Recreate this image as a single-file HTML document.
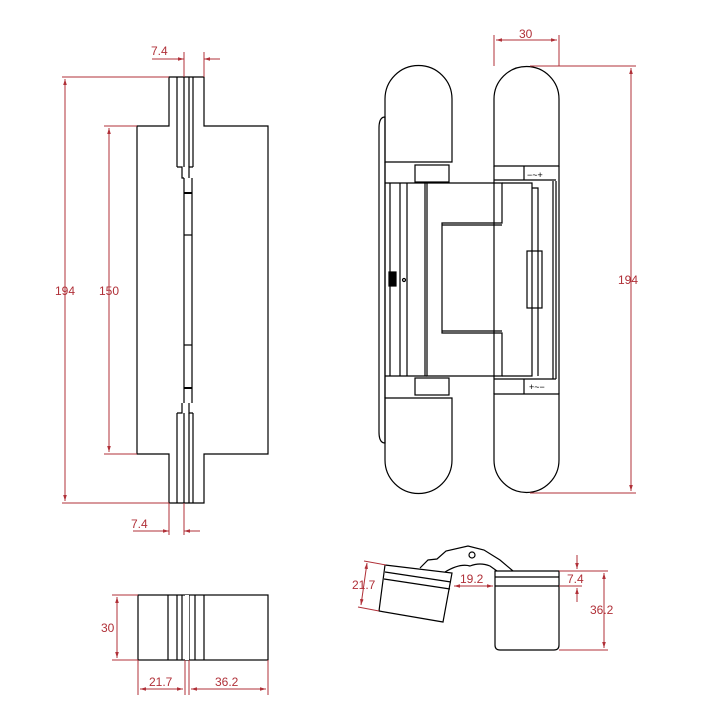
<!DOCTYPE html>
<html><head><meta charset="utf-8"><style>
html,body{margin:0;padding:0;background:#fff;width:715px;height:712px;overflow:hidden}
svg{display:block}
text{font-family:"Liberation Sans",sans-serif;font-size:12px;fill:#b03038}
.k{stroke:#000;stroke-width:1.2;fill:none}
.r{stroke:#b03038;stroke-width:1;fill:none}
</style></head><body>
<svg width="715" height="712" viewBox="0 0 715 712" xmlns="http://www.w3.org/2000/svg">
<defs>
<marker id="a" viewBox="0 0 10 10" refX="10" refY="5" markerWidth="6" markerHeight="6" orient="auto-start-reverse"><path d="M0,2 L10,5 L0,8z" fill="#b03038"/></marker>
</defs>

<!-- LEFT SIDE VIEW -->
<g class="k">
<path d="M169,77 H204 V126 H268 V454 H204 V503 H169 V454 H137 V126 H169 Z"/>
<line x1="177" y1="77" x2="177" y2="167"/>
<line x1="184" y1="77" x2="184" y2="167"/>
<line x1="189" y1="77" x2="189" y2="167"/>
<line x1="193" y1="77" x2="193" y2="167"/>
<path d="M177,167 H182 V178 H184 M193,167 H189 V178"/>
<line x1="177" y1="413" x2="177" y2="503"/>
<line x1="184" y1="413" x2="184" y2="503"/>
<line x1="189" y1="413" x2="189" y2="503"/>
<line x1="193" y1="413" x2="193" y2="503"/>
<path d="M177,413 H182 V403 M193,413 H189 V403"/>
<line x1="184" y1="178" x2="184" y2="403"/>
<line x1="192" y1="178" x2="192" y2="403"/>
<line x1="184" y1="193" x2="192" y2="193" stroke-width="2"/>
<line x1="184" y1="235" x2="192" y2="235"/>
<line x1="184" y1="345" x2="192" y2="345"/>
<line x1="184" y1="388" x2="192" y2="388" stroke-width="2"/>
</g>
<g class="r">
<line x1="62" y1="77" x2="169" y2="77"/><line x1="62" y1="503" x2="169" y2="503"/>
<line x1="65" y1="79" x2="65" y2="501" marker-start="url(#a)" marker-end="url(#a)"/>
<line x1="104" y1="126" x2="137" y2="126"/><line x1="104" y1="454" x2="137" y2="454"/>
<line x1="109" y1="128" x2="109" y2="452" marker-start="url(#a)" marker-end="url(#a)"/>
<line x1="184" y1="52" x2="184" y2="77"/><line x1="204" y1="52" x2="204" y2="77"/>
<line x1="152" y1="59" x2="184" y2="59" marker-end="url(#a)"/>
<line x1="220" y1="59" x2="204" y2="59" marker-end="url(#a)"/>
<line x1="169" y1="503" x2="169" y2="535"/><line x1="184" y1="503" x2="184" y2="535"/>
<line x1="133" y1="531" x2="169" y2="531" marker-end="url(#a)"/>
<line x1="200" y1="531" x2="184" y2="531" marker-end="url(#a)"/>
</g>
<text x="55" y="295">194</text>
<text x="99" y="295">150</text>
<text x="151" y="55">7.4</text>
<text x="131" y="528">7.4</text>

<!-- FRONT VIEW -->
<g class="k">
<path d="M379,128 Q379,117 385,117 V443 Q379,443 379,432 Z"/>
<path d="M385,162 V99 A33.5,33.5 0 0 1 452,99 V162 Z"/>
<path d="M385,398 V460 A33.5,33.5 0 0 0 452,460 V398 Z"/>
<line x1="385" y1="162" x2="385" y2="398"/>
<rect x="415" y="165" width="34" height="17"/>
<rect x="415" y="378" width="34" height="17"/>
<line x1="385" y1="183" x2="427" y2="183"/><line x1="385" y1="376" x2="427" y2="376"/>
<line x1="390" y1="183" x2="390" y2="376"/>
<line x1="400" y1="183" x2="400" y2="376"/>
<line x1="407" y1="183" x2="407" y2="376"/>
<line x1="425" y1="183" x2="425" y2="376"/>
<rect x="389" y="272" width="7" height="14" fill="#000"/>
<circle cx="404" cy="280" r="1.5"/>
<path d="M494,166 V99 A32.5,32.5 0 0 1 559,99 V166 Z"/>
<path d="M494,394 V460 A32.5,32.5 0 0 0 559,460 V394 Z"/>
<line x1="494" y1="166" x2="494" y2="394"/><line x1="559" y1="166" x2="559" y2="394"/>
<line x1="494" y1="180" x2="524" y2="180"/><line x1="524" y1="166" x2="524" y2="180"/><line x1="524" y1="180" x2="556" y2="180"/>
<line x1="494" y1="379" x2="524" y2="379"/><line x1="524" y1="379" x2="524" y2="394"/><line x1="524" y1="379" x2="556" y2="379"/>
<line x1="553" y1="181" x2="553" y2="379"/><line x1="556" y1="181" x2="556" y2="379"/>
<path d="M427,183 H502 V223 H442 V333 H502 V376 H427 Z"/>
<path d="M502,183 H532 V376 H502"/>
<path d="M532,188 H538 V376"/>
<rect x="527" y="251" width="15" height="57"/>
<line x1="442" y1="225" x2="502" y2="225"/><line x1="442" y1="331" x2="502" y2="331"/>
</g>
<text x="527" y="178" style="font-size:9px;fill:#000">−~+</text>
<text x="529" y="390" style="font-size:9px;fill:#000">+~−</text>
<g class="r">
<line x1="494" y1="35" x2="494" y2="66"/><line x1="559" y1="35" x2="559" y2="66"/>
<line x1="496" y1="40" x2="557" y2="40" marker-start="url(#a)" marker-end="url(#a)"/>
<line x1="530" y1="66" x2="636" y2="66"/><line x1="530" y1="493" x2="636" y2="493"/>
<line x1="631" y1="68" x2="631" y2="491" marker-start="url(#a)" marker-end="url(#a)"/>
</g>
<text x="519" y="38">30</text>
<text x="618" y="284">194</text>

<!-- BOTTOM LEFT TOP VIEW -->
<g class="k">
<rect x="138" y="595" width="130" height="65"/>
<line x1="168" y1="595" x2="168" y2="660"/>
<line x1="177" y1="595" x2="177" y2="660"/>
<line x1="182" y1="595" x2="182" y2="660"/>
<line x1="187" y1="595" x2="187" y2="660"/>
<line x1="189" y1="595" x2="189" y2="660"/>
<line x1="195" y1="595" x2="195" y2="660"/>
<line x1="204" y1="595" x2="204" y2="660"/>
</g>
<rect x="185" y="595" width="4" height="65" fill="#fff"/>
<g class="r">
<line x1="112" y1="595" x2="138" y2="595"/><line x1="112" y1="660" x2="138" y2="660"/>
<line x1="117" y1="597" x2="117" y2="658" marker-start="url(#a)" marker-end="url(#a)"/>
<line x1="138" y1="660" x2="138" y2="695"/><line x1="185" y1="660" x2="185" y2="695"/>
<line x1="189" y1="660" x2="189" y2="695"/><line x1="268" y1="660" x2="268" y2="695"/>
<line x1="140" y1="689" x2="183" y2="689" marker-start="url(#a)" marker-end="url(#a)"/>
<line x1="191" y1="689" x2="266" y2="689" marker-start="url(#a)" marker-end="url(#a)"/>
</g>
<text x="101" y="632">30</text>
<text x="149" y="686">21.7</text>
<text x="215" y="686">36.2</text>

<!-- BOTTOM RIGHT OPEN VIEW -->
<g class="k">
<path d="M385,565 L452,573 L443,622 L379,611 Z"/>
<line x1="385" y1="572" x2="451" y2="582"/>
<line x1="384" y1="579" x2="450" y2="589"/>
<path d="M420,568 L428,560 L437,559 L446,551 L468,546 L484,550 L500,560 L513,571"/>
<path d="M445,572 Q460,563 470,566 Q480,562 490,566 L497,571"/>
<circle cx="472" cy="555" r="3"/>
<path d="M495,571 H559 V645 Q559,650 554,650 H500 Q495,650 495,645 Z"/>
<line x1="495" y1="577" x2="559" y2="577"/>
<line x1="495" y1="586" x2="559" y2="586"/>
</g>
<g class="r">
<line x1="559" y1="571" x2="608" y2="571"/><line x1="559" y1="586" x2="582" y2="586"/>
<line x1="559" y1="650" x2="608" y2="650"/>
<line x1="577" y1="555" x2="577" y2="569" marker-end="url(#a)"/>
<line x1="577" y1="602" x2="577" y2="588" marker-end="url(#a)"/>
<line x1="604" y1="573" x2="604" y2="648" marker-start="url(#a)" marker-end="url(#a)"/>
<line x1="454" y1="586" x2="493" y2="586" marker-start="url(#a)" marker-end="url(#a)"/>
<line x1="364" y1="561" x2="386" y2="565"/><line x1="358" y1="607" x2="379" y2="611"/>
<line x1="367" y1="563" x2="361" y2="605" marker-start="url(#a)" marker-end="url(#a)"/>
</g>
<text x="460" y="583">19.2</text>
<text x="567" y="583">7.4</text>
<text x="590" y="614">36.2</text>
<text x="352" y="589">21.7</text>
</svg>
</body></html>
